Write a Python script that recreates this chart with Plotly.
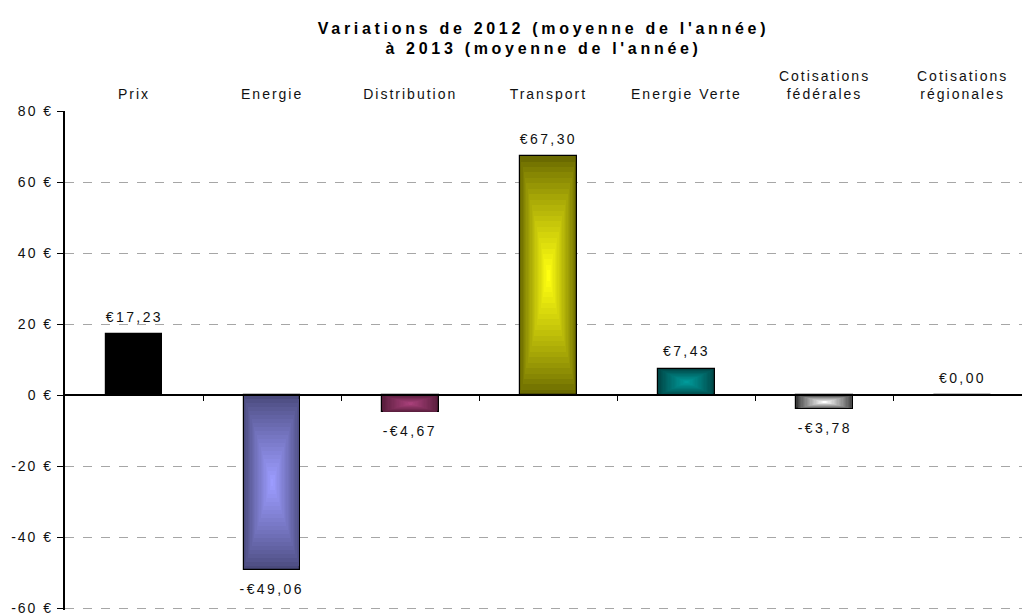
import plotly.graph_objects as go

# ---- data ----
categories = ["Prix", "Energie", "Distribution", "Transport", "Energie Verte",
              "Cotisations fédérales", "Cotisations régionales"]
category_labels = ["Prix", "Energie", "Distribution", "Transport", "Energie Verte",
                   "Cotisations<br>fédérales", "Cotisations<br>régionales"]
values = [17.23, -49.06, -4.67, 67.30, 7.43, -3.78, 0.00]
y_ticks = [-60, -40, -20, 0, 20, 40, 60, 80]
y_tick_labels = ["-60 €", "-40 €", "-20 €", "0 €", "20 €", "40 €", "60 €", "80 €"]
title_text = "Variations de 2012 (moyenne de l'année)<br>à 2013 (moyenne de l'année)"

# ---- style ----
edge_colors = ["#000000", "#4a4a7c", "#561c3a", "#6a6a00", "#004444", "#3a3a3a", "#3a3a3a"]
center_colors = ["#000000", "#9c9cff", "#a8407a", "#ffff10", "#009a9a", "#ffffff", "#ffffff"]
FONT = "Liberation Sans, Arial, sans-serif"
BAR_W = 0.41
N_LAYERS = 22


def hex2rgb(h):
    h = h.lstrip("#")
    return tuple(int(h[i:i + 2], 16) for i in (0, 2, 4))


def mix(c1, c2, t):
    a, b = hex2rgb(c1), hex2rgb(c2)
    return "rgb(%d,%d,%d)" % tuple(round(a[i] + (b[i] - a[i]) * t) for i in range(3))


def fmt(v):
    s = ("%.2f" % abs(v)).replace(".", ",")
    return ("-€" if v < 0 else "€") + s


x_idx = list(range(len(categories)))
fig = go.Figure()

# bars drawn as nested layers to imitate the rectangular gradient fill
for k in range(N_LAYERS):
    s = 1 - k / N_LAYERS
    t = (k / (N_LAYERS - 1)) ** 0.85
    fig.add_trace(go.Bar(
        x=x_idx,
        y=[v * s for v in values],
        base=[v * (1 - s) / 2 for v in values],
        width=[BAR_W * s] * len(values),
        marker=dict(
            color=[mix(e, c, t) for e, c in zip(edge_colors, center_colors)],
            line=dict(color="#000000", width=1.2 if k == 0 else 0),
        ),
        hoverinfo="skip",
        showlegend=False,
        xaxis="x", yaxis="y",
    ))

# invisible trace to attach the zero-line axis
fig.add_trace(go.Scatter(x=x_idx, y=[0] * len(x_idx), mode="markers",
                         marker=dict(opacity=0), hoverinfo="skip",
                         showlegend=False, xaxis="x2", yaxis="y"))

# value labels
for i, v in enumerate(values):
    fig.add_annotation(x=i, y=v, xref="x", yref="y", text=fmt(v), showarrow=False,
                       yshift=17.5 if v >= 0 else -19.5,
                       font=dict(family=FONT, size=14, color="#111111"))

x_range = [-0.5, 6.43]
y_range = [-60.4, 80]
fig.update_layout(
    width=1022, height=614,
    margin=dict(l=65, r=0, t=111, b=4, autoexpand=False),
    paper_bgcolor="white", plot_bgcolor="white",
    barmode="overlay",
    bargap=0,
    title=dict(text=title_text, x=0.5, xref="paper", xanchor="center",
               y=1 - 33.5 / 614, yref="container", yanchor="middle",
               font=dict(family=FONT, size=16, color="#000000", weight="bold")),
    xaxis=dict(range=x_range, side="top", tickvals=x_idx, ticktext=category_labels,
               showgrid=False, showline=False, ticks="", zeroline=False,
               tickfont=dict(family=FONT, size=14, color="#111111"),
               ticklabelstandoff=8, fixedrange=True, automargin=False),
    xaxis2=dict(range=x_range, overlaying="x", anchor="free",
                position=(0 - y_range[0]) / (y_range[1] - y_range[0]),
                side="bottom", tickvals=[i + 0.5 for i in x_idx], ticks="outside",
                ticklen=5, tickwidth=1.2, tickcolor="#000000", showticklabels=False,
                showline=True, linecolor="#000000", linewidth=2.2, showgrid=False,
                zeroline=False, fixedrange=True, automargin=False),
    yaxis=dict(range=y_range, tickvals=y_ticks, ticktext=y_tick_labels,
               showline=True, linecolor="#000000", linewidth=2.2,
               ticks="outside", ticklen=6, tickwidth=1.2, tickcolor="#000000",
               showgrid=True, gridcolor="#a6a6a6", griddash="dash", gridwidth=1,
               zeroline=False, tickfont=dict(family=FONT, size=14, color="#111111"),
               ticklabelstandoff=1, ticklabeloverflow="allow",
               fixedrange=True, automargin=False),
)

post = """
var st = document.createElement('style');
st.textContent = 'html,body{margin:0;padding:0;overflow:hidden}'
  + ' .main-svg text{letter-spacing:2px}'
  + ' .main-svg text.annotation-text{letter-spacing:2.4px}'
  + ' .main-svg text.gtitle{letter-spacing:3.7px}';
document.head.appendChild(st);
"""
fig.write_html("out.html", post_script=post, config={"displayModeBar": False})
